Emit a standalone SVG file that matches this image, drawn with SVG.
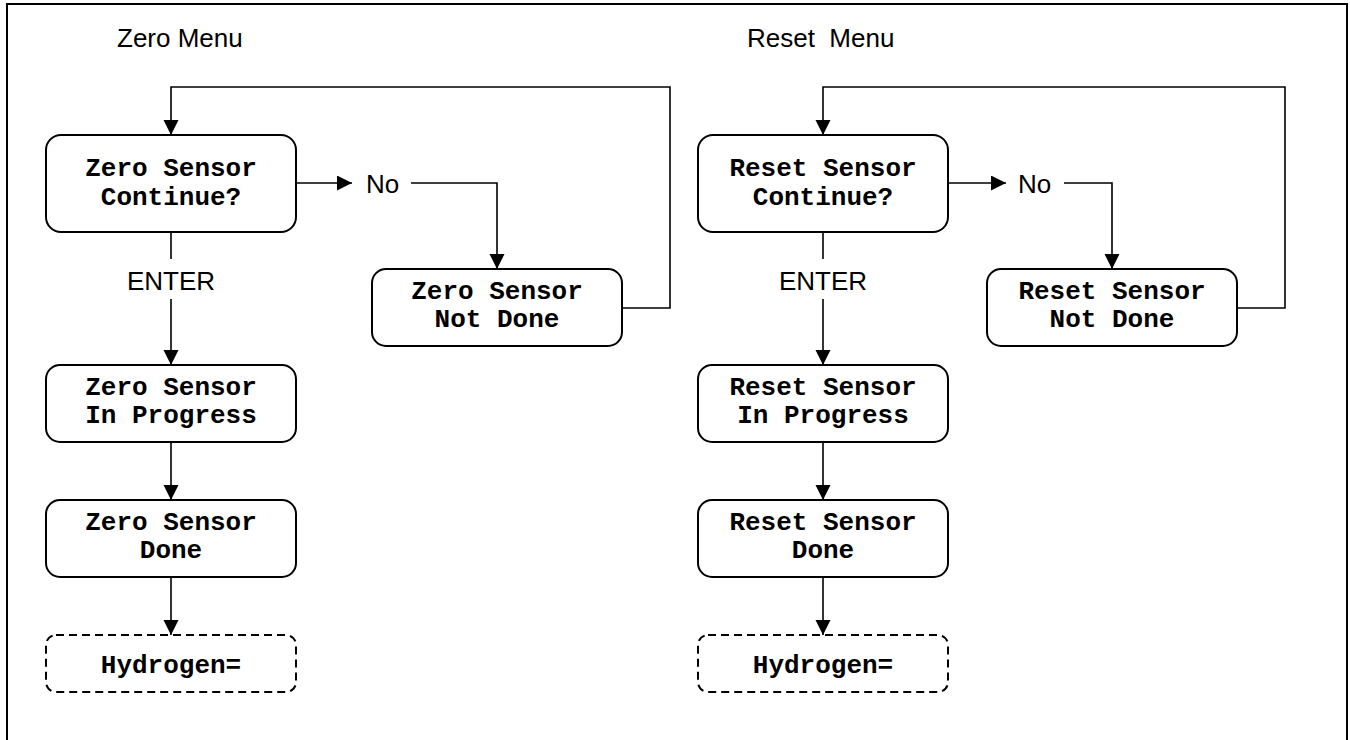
<svg xmlns="http://www.w3.org/2000/svg" width="1350" height="740" viewBox="0 0 1350 740">
<style>
.box{fill:#fff;stroke:#000;stroke-width:2}
.dash{fill:#fff;stroke:#000;stroke-width:2;stroke-dasharray:8 5}
.mono{font-family:"Liberation Mono","Courier New",monospace;font-weight:bold;font-size:26px;text-anchor:middle;fill:#000}
.sans{font-family:"Liberation Sans",Arial,sans-serif;font-size:26px;fill:#000;white-space:pre}
.ln{fill:none;stroke:#000;stroke-width:1.6}
</style>
<defs>
<marker id="ah" markerUnits="userSpaceOnUse" markerWidth="16" markerHeight="16" refX="15" refY="7.5" orient="auto">
<path d="M0,0 L15,7.5 L0,15 z" fill="#000"/>
</marker>
</defs>
<rect x="7" y="4" width="1340" height="800" fill="#fff" stroke="#000" stroke-width="2"/>
<text class="sans" x="117" y="47">Zero Menu</text>
<text class="sans" x="747" y="47" xml:space="preserve">Reset  Menu</text>

<g id="connectors">
<path class="ln" d="M622,308 H670 V87 H171 V135" marker-end="url(#ah)"/>
<path class="ln" d="M296,183 H352" marker-end="url(#ah)"/>
<path class="ln" d="M411,183 H497 V269" marker-end="url(#ah)"/>
<path class="ln" d="M171,232 V259"/>
<path class="ln" d="M171,299 V365" marker-end="url(#ah)"/>
<path class="ln" d="M171,442 V500" marker-end="url(#ah)"/>
<path class="ln" d="M171,577 V635" marker-end="url(#ah)"/>
<text class="sans" x="366" y="193">No</text>
<text class="sans" x="171" y="290" text-anchor="middle">ENTER</text>

<path class="ln" d="M1237,308 H1285 V87 H823 V135" marker-end="url(#ah)"/>
<path class="ln" d="M948,183 H1006" marker-end="url(#ah)"/>
<path class="ln" d="M1064,183 H1112 V269" marker-end="url(#ah)"/>
<path class="ln" d="M823,232 V259"/>
<path class="ln" d="M823,299 V365" marker-end="url(#ah)"/>
<path class="ln" d="M823,442 V500" marker-end="url(#ah)"/>
<path class="ln" d="M823,577 V635" marker-end="url(#ah)"/>
<text class="sans" x="1018" y="193">No</text>
<text class="sans" x="823" y="290" text-anchor="middle">ENTER</text>
</g>

<g id="zero-continue">
<rect class="box" x="46" y="135" width="250" height="97" rx="15"/>
<text class="mono" x="171" y="176">Zero Sensor</text>
<text class="mono" x="171" y="205">Continue?</text>
</g>
<g id="zero-notdone">
<rect class="box" x="372" y="269" width="250" height="77" rx="14"/>
<text class="mono" x="497" y="299">Zero Sensor</text>
<text class="mono" x="497" y="327">Not Done</text>
</g>
<g id="zero-progress">
<rect class="box" x="46" y="365" width="250" height="77" rx="14"/>
<text class="mono" x="171" y="395">Zero Sensor</text>
<text class="mono" x="171" y="423">In Progress</text>
</g>
<g id="zero-done">
<rect class="box" x="46" y="500" width="250" height="77" rx="14"/>
<text class="mono" x="171" y="530">Zero Sensor</text>
<text class="mono" x="171" y="558">Done</text>
</g>
<g id="zero-hydrogen">
<rect class="dash" x="46" y="635" width="250" height="57" rx="10"/>
<text class="mono" x="171" y="673">Hydrogen=</text>
</g>

<g id="reset-continue">
<rect class="box" x="698" y="135" width="250" height="97" rx="15"/>
<text class="mono" x="823" y="176">Reset Sensor</text>
<text class="mono" x="823" y="205">Continue?</text>
</g>
<g id="reset-notdone">
<rect class="box" x="987" y="269" width="250" height="77" rx="14"/>
<text class="mono" x="1112" y="299">Reset Sensor</text>
<text class="mono" x="1112" y="327">Not Done</text>
</g>
<g id="reset-progress">
<rect class="box" x="698" y="365" width="250" height="77" rx="14"/>
<text class="mono" x="823" y="395">Reset Sensor</text>
<text class="mono" x="823" y="423">In Progress</text>
</g>
<g id="reset-done">
<rect class="box" x="698" y="500" width="250" height="77" rx="14"/>
<text class="mono" x="823" y="530">Reset Sensor</text>
<text class="mono" x="823" y="558">Done</text>
</g>
<g id="reset-hydrogen">
<rect class="dash" x="698" y="635" width="250" height="57" rx="10"/>
<text class="mono" x="823" y="673">Hydrogen=</text>
</g>
</svg>
